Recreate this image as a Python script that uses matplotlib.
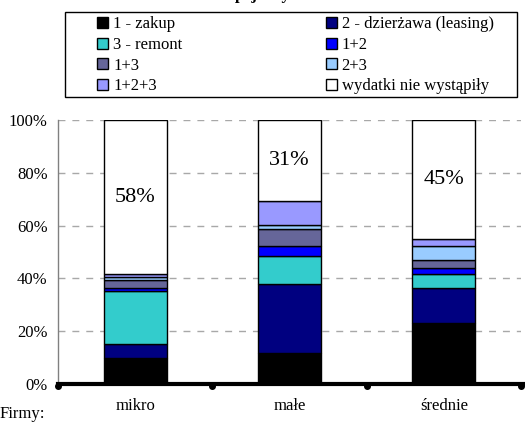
import numpy as np
import matplotlib.pyplot as plt
from matplotlib.patches import Rectangle

plt.rcParams['font.family'] = ['Liberation Serif', 'DejaVu Serif']

# data (% of firms)
categories = ['mikro', 'małe', 'średnie']
series_names = ['1 - zakup', '2 - dzierżawa (leasing)', '3 - remont', '1+2',
                '1+3', '2+3', '1+2+3', 'wydatki nie wystąpiły']
zakup = [9.7, 11.7, 23.1]
dzierzawa = [5.6, 26.3, 13.4]
remont = [19.9, 10.6, 5.2]
s12 = [1.2, 3.8, 2.4]
s13 = [3.0, 6.2, 2.9]
s23 = [1.2, 1.5, 5.4]
s123 = [0.9, 9.2, 2.5]
brak = [58.5, 30.7, 45.1]
brak_labels = ['58%', '31%', '45%']

colors = ['#000000', '#000080', '#33CCCC', '#0000FF',
          '#666699', '#99CCFF', '#9999FF', '#FFFFFF']

fs = 12
W, H = 525, 423
fig = plt.figure(figsize=(W / 100, H / 100), dpi=100)
ax = fig.add_axes([58 / W, 1 - 384 / H, 463 / W, 264 / H])

x = np.arange(len(categories))
series = [zakup, dzierzawa, remont, s12, s13, s23, s123, brak]
bottom = np.zeros(len(categories))
handles = []
for vals, col, name in zip(series, colors, series_names):
    b = ax.bar(x, vals, 0.41, bottom=bottom, color=col, edgecolor='black',
               linewidth=1.0, label=name, zorder=3)
    handles.append(b)
    bottom += np.array(vals)

# labels in the white segments
for i, lab in enumerate(brak_labels):
    yc = bottom[i] - brak[i] / 2
    ax.text(x[i], yc, lab, ha='center', va='center', fontsize=16, zorder=5)

ax.set_xlim(-0.5, 2.5)
ax.set_ylim(0, 100)
ax.set_yticks([0, 20, 40, 60, 80, 100])
ax.set_yticklabels(['0%', '20%', '40%', '60%', '80%', '100%'], fontsize=fs)
ax.tick_params(axis='y', length=0, pad=7.5)
ax.set_xticks(x)
ax.set_xticklabels(categories, fontsize=fs)
ax.tick_params(axis='x', length=0, pad=10)

ax.yaxis.grid(True, color='#a8a8a8', linestyle=(0, (5, 5)), linewidth=1.0, zorder=0)
ax.set_axisbelow(True)
for s in ['top', 'right']:
    ax.spines[s].set_visible(False)
ax.spines['left'].set_color('#808080')
ax.spines['left'].set_linewidth(1.0)
ax.spines['bottom'].set_linewidth(3.0)
ax.spines['bottom'].set_zorder(6)
ax.spines['bottom'].set_bounds(-0.5, 2.53)
ax.plot([-0.5, 0.5, 1.5, 2.5], [-0.8, -0.8, -0.8, -0.8], 'o', color='black',
        markersize=4, clip_on=False, zorder=7)

# legend frame drawn separately, entries placed inside
fig.patches.append(Rectangle((65 / W, 1 - 97 / H), 452 / W, 85 / H,
                             transform=fig.transFigure, fill=False,
                             edgecolor='black', linewidth=1.0))
order = [0, 2, 4, 6, 1, 3, 5, 7]
leg = fig.legend([handles[i] for i in order], [series_names[i] for i in order],
                 ncol=2, loc='upper left',
                 bbox_to_anchor=(94 / W, 1 - 13 / H),
                 fontsize=fs, frameon=False,
                 handlelength=0.65, handleheight=0.65, handletextpad=0.3,
                 labelspacing=0.28, borderpad=0.2, borderaxespad=0,
                 columnspacing=8.6)

fig.text(0.0, 1 - 414 / H, 'Firmy:', fontsize=fs, ha='left', va='center')
fig.text(263 / W, 1 + 1 / H, 'pojazdy', fontsize=fs, fontweight='bold',
         ha='center', va='baseline')

fig.savefig('out.png', dpi=100)
